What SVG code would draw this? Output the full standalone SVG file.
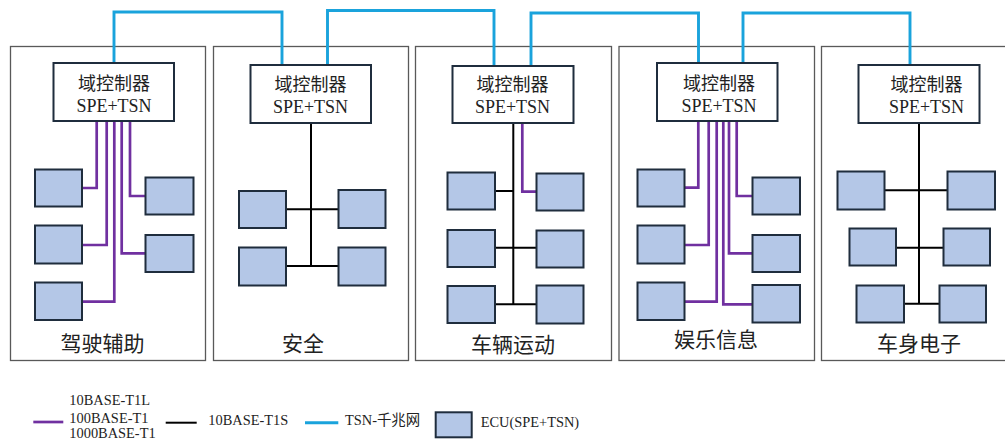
<svg xmlns="http://www.w3.org/2000/svg" width="1005" height="441" viewBox="0 0 1005 441">
<style>
.frame{fill:#fff;stroke:#595959;stroke-width:1.3}
.ctrl{fill:#fff;stroke:#1f2d3d;stroke-width:2}
.ecu{fill:#b4c7e7;stroke:#1f2d3d;stroke-width:2}
.tsn{fill:none;stroke:#1aa3dc;stroke-width:2.9}
.spe{fill:none;stroke:#7030a0;stroke-width:2.7}
.bus{fill:none;stroke:#000;stroke-width:2}
.cjk{font-family:"Noto Sans CJK SC",sans-serif;fill:#222}
.ser{font-family:"Liberation Serif","Noto Sans CJK SC",serif;fill:#222}
.t1{font-size:18px;text-anchor:middle}
.lab{font-size:21px;text-anchor:middle}
.leg{font-size:14.4px}
</style>
<rect width="1005" height="441" fill="#fff"/>
<g id="domain-adas">
<rect class="frame" x="10.5" y="46.5" width="195" height="314"/>
<text class="cjk lab" x="102.5" y="350.5">驾驶辅助</text>
</g>
<g id="domain-safety">
<rect class="frame" x="213.5" y="46.5" width="195" height="314"/>
<text class="cjk lab" x="303" y="351">安全</text>
</g>
<g id="domain-motion">
<rect class="frame" x="415.5" y="46.5" width="196" height="314"/>
<text class="cjk lab" x="513" y="351.5">车辆运动</text>
</g>
<g id="domain-info">
<rect class="frame" x="619" y="46.5" width="195.5" height="314"/>
<text class="cjk lab" x="716" y="346.5">娱乐信息</text>
</g>
<g id="domain-body">
<rect class="frame" x="821.5" y="46.5" width="190" height="314"/>
<text class="cjk lab" x="919" y="351">车身电子</text>
</g>
<g id="connectors">
<path class="tsn" d="M114,63V12H282V65"/>
<path class="tsn" d="M327.5,65V10.5H494V66"/>
<path class="tsn" d="M531,66V13H698.5V63"/>
<path class="tsn" d="M743,63V13H910V65"/>
<path class="spe" d="M96.7,121V188H82"/>
<path class="spe" d="M106.7,121V245H82"/>
<path class="spe" d="M114.3,121V301.7H82"/>
<path class="spe" d="M121.7,121V253.3H145.5"/>
<path class="spe" d="M130,121V196H145.5"/>
<path class="bus" d="M311,123V266M285.7,209.3H338.5M285.7,266H338.5"/>
<path class="bus" d="M513.3,123V304.3M495,191H513.3M495,247.7H536.5M495,304.3H536.5"/>
<path class="spe" d="M522.3,123V191.7H536.5"/>
<path class="spe" d="M698.3,121V187.7H684.5"/>
<path class="spe" d="M708.7,121V245H684.5"/>
<path class="spe" d="M716.7,121V301.7H684.5"/>
<path class="spe" d="M723.3,121V304.3H752.5"/>
<path class="spe" d="M729,121V253.3H752.5"/>
<path class="spe" d="M736.7,121V196H752.5"/>
<path class="bus" d="M919,123V303.7M884.5,190.3H947.5M896,247.7H943.5M904,303.7H939.5"/>
</g>
<g id="ctrl-adas">
<rect class="ctrl" x="53.5" y="63" width="120.5" height="58"/>
<text class="cjk t1" x="114" y="89.5">域控制器</text>
<text class="ser t1" x="114" y="111.5">SPE+TSN</text>
</g>
<g id="ctrl-safety">
<rect class="ctrl" x="250.5" y="65" width="120.5" height="58"/>
<text class="cjk t1" x="310.5" y="90.5">域控制器</text>
<text class="ser t1" x="310.5" y="112.5">SPE+TSN</text>
</g>
<g id="ctrl-motion">
<rect class="ctrl" x="452.5" y="66" width="121" height="57"/>
<text class="cjk t1" x="512.5" y="91">域控制器</text>
<text class="ser t1" x="512.5" y="113">SPE+TSN</text>
</g>
<g id="ctrl-info">
<rect class="ctrl" x="657" y="63" width="120.5" height="58"/>
<text class="cjk t1" x="719" y="89.5">域控制器</text>
<text class="ser t1" x="719" y="111.5">SPE+TSN</text>
</g>
<g id="ctrl-body">
<rect class="ctrl" x="858.5" y="65" width="121" height="58"/>
<text class="cjk t1" x="926.5" y="90.5">域控制器</text>
<text class="ser t1" x="926.5" y="112.5">SPE+TSN</text>
</g>
<g id="ecus-adas">
<rect id="ecu-a1" class="ecu" x="35" y="169.5" width="47" height="37"/>
<rect id="ecu-a2" class="ecu" x="35" y="225.5" width="47" height="38"/>
<rect id="ecu-a3" class="ecu" x="35" y="282.5" width="47" height="37.5"/>
<rect id="ecu-a4" class="ecu" x="145.5" y="177.5" width="48" height="37"/>
<rect id="ecu-a5" class="ecu" x="145.5" y="235" width="48" height="37"/>
</g>
<g id="ecus-safety">
<rect id="ecu-s1" class="ecu" x="239" y="191" width="47" height="37"/>
<rect id="ecu-s2" class="ecu" x="239" y="247.5" width="47" height="38"/>
<rect id="ecu-s3" class="ecu" x="338.5" y="190" width="47" height="38"/>
<rect id="ecu-s4" class="ecu" x="338.5" y="247.5" width="47" height="38"/>
</g>
<g id="ecus-motion">
<rect id="ecu-m1" class="ecu" x="447.5" y="172.5" width="47.5" height="37"/>
<rect id="ecu-m2" class="ecu" x="447.5" y="230" width="47.5" height="37"/>
<rect id="ecu-m3" class="ecu" x="447.5" y="286" width="47.5" height="37"/>
<rect id="ecu-m4" class="ecu" x="536.5" y="173.5" width="47" height="37"/>
<rect id="ecu-m5" class="ecu" x="536.5" y="230.5" width="47" height="37"/>
<rect id="ecu-m6" class="ecu" x="536.5" y="285.5" width="47" height="38"/>
</g>
<g id="ecus-info">
<rect id="ecu-i1" class="ecu" x="637.5" y="169.5" width="47" height="37"/>
<rect id="ecu-i2" class="ecu" x="637.5" y="225.5" width="47" height="38"/>
<rect id="ecu-i3" class="ecu" x="637.5" y="282.5" width="47" height="37.5"/>
<rect id="ecu-i4" class="ecu" x="752.5" y="177.5" width="47.5" height="37"/>
<rect id="ecu-i5" class="ecu" x="752.5" y="235" width="47.5" height="37"/>
<rect id="ecu-i6" class="ecu" x="752.5" y="285" width="47.5" height="37.5"/>
</g>
<g id="ecus-body">
<rect id="ecu-b1" class="ecu" x="837.5" y="171.5" width="47" height="38"/>
<rect id="ecu-b2" class="ecu" x="947.5" y="171.5" width="47.5" height="38"/>
<rect id="ecu-b3" class="ecu" x="849.5" y="228.5" width="46.5" height="37"/>
<rect id="ecu-b4" class="ecu" x="943.5" y="228.5" width="46.5" height="37"/>
<rect id="ecu-b5" class="ecu" x="856.5" y="285.5" width="47.5" height="37"/>
<rect id="ecu-b6" class="ecu" x="939.5" y="285.5" width="46.5" height="37"/>
</g>
<g id="legend">
<path class="spe" d="M33.3,422H63.3"/>
<text class="ser leg" x="69.3" y="404.5">10BASE-T1L</text>
<text class="ser leg" x="69.3" y="422.5">100BASE-T1</text>
<text class="ser leg" x="69.3" y="438">1000BASE-T1</text>
<path class="bus" d="M165.7,422.7H196.7"/>
<text class="ser leg" x="208.3" y="425">10BASE-T1S</text>
<path class="tsn" d="M305,422.7H338.3"/>
<text class="ser leg" x="345" y="425">TSN-千兆网</text>
<rect class="ecu" x="435.7" y="412.3" width="36" height="25"/>
<text class="ser leg" x="480.7" y="426.5">ECU(SPE+TSN)</text>
</g>
</svg>
